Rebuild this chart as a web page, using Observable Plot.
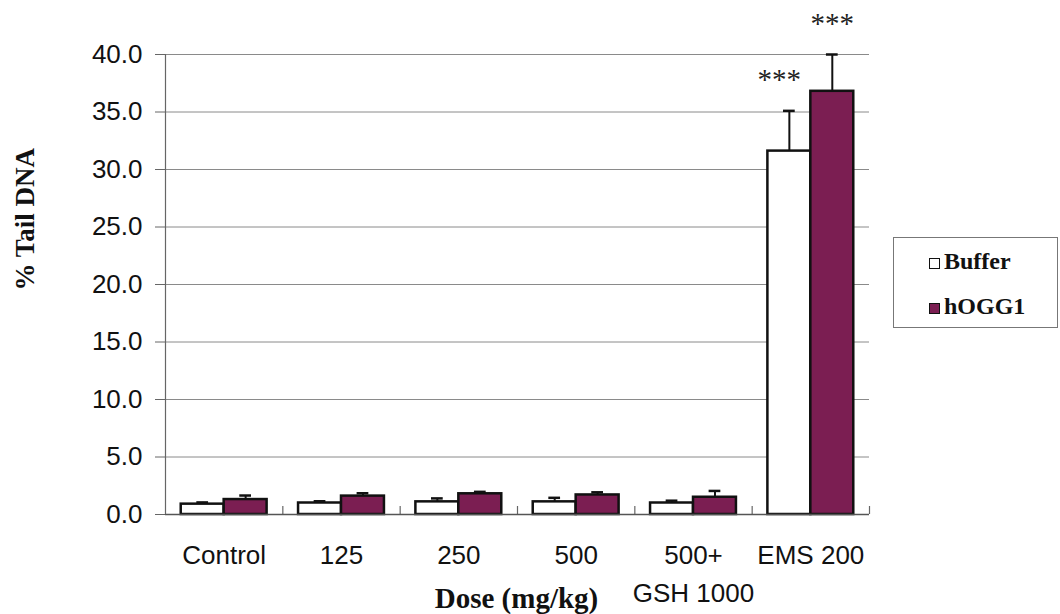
<!DOCTYPE html>
<html>
<head>
<meta charset="utf-8">
<script src="https://cdn.jsdelivr.net/npm/d3@7"></script>
<script src="https://cdn.jsdelivr.net/npm/@observablehq/plot@0.6"></script>
<style>
  html, body { margin: 0; padding: 0; background: #fff; }
  #wrap { position: relative; width: 1060px; height: 614px; }
  .legend { position: absolute; left: 893px; top: 237px; width: 165px; height: 91px; box-sizing: border-box;
            border: 1.5px solid #777; font-family: "Liberation Serif", serif; font-weight: bold; font-size: 24px; color: #111; }
  .legend .item { position: absolute; left: 35px; display: flex; align-items: baseline; }
  .legend .sw { display: inline-block; width: 9px; height: 9px; border: 1.5px solid #111; margin-right: 4px; }
</style>
</head>
<body>
<div id="wrap"></div>
<script>
// ---- data ----
const categories = ["Control", "125", "250", "500", "500+\nGSH 1000", "EMS 200"];
const seriesNames = ["Buffer", "hOGG1"];
const bufferMean = [0.9, 1.0, 1.1, 1.1, 1.0, 31.6];
const bufferErr  = [0.15, 0.15, 0.3, 0.35, 0.2, 3.5];
const hoggMean   = [1.3, 1.6, 1.8, 1.7, 1.5, 36.8];
const hoggErr    = [0.35, 0.25, 0.17, 0.23, 0.55, 3.2];
const bufferSig  = ["", "", "", "", "", "***"];
const hoggSig    = ["", "", "", "", "", "***"];
const yTicks = [0, 5, 10, 15, 20, 25, 30, 35, 40];
const seriesColors = ["#ffffff", "#7b1e52"];

// ---- table ----
const outer = 0.134, barW = 0.366;
const rows = [];
categories.forEach((c, i) => {
  [[bufferMean, bufferErr, bufferSig], [hoggMean, hoggErr, hoggSig]].forEach(([m, e, s], k) => {
    const x1 = i + outer + k * barW;
    rows.push({cat: c, series: seriesNames[k], k, x1, x2: x1 + barW, xc: x1 + barW / 2,
               mean: m[i], top: m[i] + e[i], sig: s[i]});
  });
});
const capHalf = 0.05;

const chart = Plot.plot({
  width: 1060,
  height: 614,
  marginLeft: 165,
  marginRight: 191,
  marginTop: 54,
  marginBottom: 100,
  x: {domain: [0, categories.length], axis: null},
  y: {domain: [0, 40], axis: null},
  color: {domain: seriesNames, range: seriesColors},
  style: {background: "#fff", overflow: "visible"},
  marks: [
    Plot.gridY(yTicks.filter(d => d > 0), {stroke: "#8a8a8a", strokeOpacity: 1, strokeWidth: 1}),
    Plot.axisY(yTicks, {tickFormat: d => d.toFixed(1), tickSize: 10, tickPadding: 13, fontSize: 26,
                        fontFamily: "Liberation Sans, Arial, sans-serif", stroke: "#666", label: null, fill: "#111"}),
    Plot.axisX(d3.range(categories.length).map(i => i + 0.5), {
      tickFormat: d => categories[Math.floor(d)], tickSize: 0, tickPadding: 23, fontSize: 26,
      lineHeight: 1.46, fontFamily: "Liberation Sans, Arial, sans-serif", label: null, fill: "#111"}),
    // inward category tick marks
    Plot.ruleX(d3.range(1, categories.length + 1), {y1: 0, y2: 0, insetTop: -8, stroke: "#666", strokeWidth: 1.2}),
    // bars
    Plot.rectY(rows, {x1: "x1", x2: "x2", y1: 0, y2: "mean", fill: "series", stroke: "#111", strokeWidth: 2.5}),
    // error bars
    Plot.ruleX(rows, {x: "xc", y1: "mean", y2: "top", stroke: "#111", strokeWidth: 2}),
    Plot.ruleY(rows, {x1: d => d.xc - capHalf, x2: d => d.xc + capHalf, y: "top", stroke: "#111", strokeWidth: 2.5}),
    // axes lines
    Plot.ruleY([0], {stroke: "#555", strokeWidth: 1.5}),
    Plot.ruleX([0], {stroke: "#666", strokeWidth: 1.2}),
    // significance stars
    Plot.text(rows.filter(d => d.k === 0), {x: "xc", y: "top", text: "sig", dy: -31, dx: -10, fontSize: 29,
      fontFamily: "Liberation Serif, serif", fill: "#222"}),
    Plot.text(rows.filter(d => d.k === 1), {x: "xc", y: "top", text: "sig", dy: -31, fontSize: 29,
      fontFamily: "Liberation Serif, serif", fill: "#222"}),
    // axis titles
    Plot.text(["% Tail DNA"], {frameAnchor: "left", rotate: -90, dx: -140, dy: 6, fontSize: 27,
      fontWeight: "bold", fontFamily: "Liberation Serif, serif", fill: "#111"}),
    Plot.text(["Dose (mg/kg)"], {frameAnchor: "bottom", dy: 93, dx: -1, fontSize: 29,
      fontWeight: "bold", fontFamily: "Liberation Serif, serif", fill: "#111"})
  ]
});

const wrap = document.getElementById("wrap");
wrap.appendChild(chart);

// legend
const legend = document.createElement("div");
legend.className = "legend";
seriesNames.forEach((name, k) => {
  const item = document.createElement("div");
  item.className = "item";
  item.style.top = (k === 0 ? 10 : 55) + "px";
  const sw = document.createElement("span");
  sw.className = "sw";
  sw.style.background = seriesColors[k];
  item.appendChild(sw);
  item.appendChild(document.createTextNode(name));
  legend.appendChild(item);
});
wrap.appendChild(legend);
</script>
</body>
</html>
